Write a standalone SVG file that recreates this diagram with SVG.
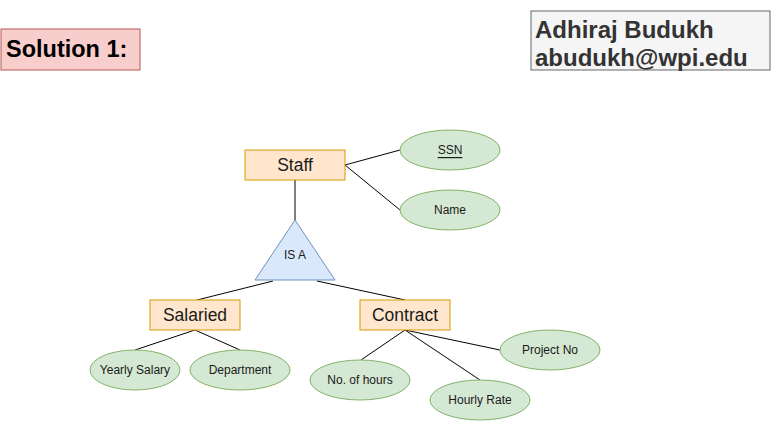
<svg xmlns="http://www.w3.org/2000/svg" width="771" height="421" viewBox="0 0 771 421">
<style>
text{font-family:"Liberation Sans",Arial,Helvetica,sans-serif;fill:#1a1a1a}
.ent{fill:#ffe6cc;stroke:#d79b00;stroke-width:1}
.att{fill:#d5e8d4;stroke:#82b366;stroke-width:1}
.isa{fill:#dae8fc;stroke:#6c8ebf;stroke-width:1}
.lbl16{font-size:17.5px;text-anchor:middle;dominant-baseline:central}
.lbl12{font-size:12px;text-anchor:middle;dominant-baseline:central}
.conn line{stroke:#000;stroke-width:1}
</style>
<rect width="771" height="421" fill="#fff"/>
<g id="title">
<rect x="1" y="29" width="139" height="41" fill="#f8cecc" stroke="#b85450"/>
<text x="6" y="57" font-size="23.5" font-weight="bold" style="fill:#000">Solution 1:</text>
</g>
<g id="author">
<rect x="531" y="11" width="239" height="59" fill="#f5f5f5" stroke="#666"/>
<text x="535" y="38" font-size="24" font-weight="bold" style="fill:#333">Adhiraj Budukh</text>
<text x="535" y="66" font-size="24" font-weight="bold" style="fill:#333">abudukh@wpi.edu</text>
</g>
<g class="conn" id="connectors">
<line x1="345" y1="165" x2="400" y2="150"/>
<line x1="345" y1="165" x2="400" y2="210"/>
<line x1="295" y1="180" x2="295" y2="220"/>
<line x1="273" y1="281" x2="197" y2="300"/>
<line x1="317" y1="281" x2="405" y2="300"/>
<line x1="195" y1="330" x2="135" y2="350"/>
<line x1="195" y1="330" x2="240" y2="350"/>
<line x1="405" y1="330" x2="361" y2="360"/>
<line x1="405" y1="330" x2="480" y2="380"/>
<line x1="405" y1="330" x2="500" y2="350"/>
</g>
<g id="staff">
<rect class="ent" x="245" y="150" width="100" height="30"/>
<text class="lbl16" x="295" y="165">Staff</text>
</g>
<g id="ssn">
<ellipse class="att" cx="450" cy="150" rx="50" ry="20"/>
<text class="lbl12" x="450" y="150" text-decoration="underline">SSN</text>
</g>
<g id="name">
<ellipse class="att" cx="450" cy="210" rx="50" ry="20"/>
<text class="lbl12" x="450" y="210">Name</text>
</g>
<g id="isa">
<polygon class="isa" points="295,220 255,280 335,280"/>
<text class="lbl12" x="295" y="255">IS A</text>
</g>
<g id="salaried">
<rect class="ent" x="150" y="300" width="90" height="30"/>
<text class="lbl16" x="195" y="315">Salaried</text>
</g>
<g id="contract">
<rect class="ent" x="360" y="300" width="90" height="30"/>
<text class="lbl16" x="405" y="315">Contract</text>
</g>
<g id="yearly">
<ellipse class="att" cx="135" cy="370" rx="45" ry="20"/>
<text class="lbl12" x="135" y="370">Yearly Salary</text>
</g>
<g id="department">
<ellipse class="att" cx="240" cy="370" rx="50" ry="20"/>
<text class="lbl12" x="240" y="370">Department</text>
</g>
<g id="hours">
<ellipse class="att" cx="360" cy="380" rx="50" ry="20"/>
<text class="lbl12" x="360" y="380">No. of hours</text>
</g>
<g id="rate">
<ellipse class="att" cx="480" cy="400" rx="50" ry="20"/>
<text class="lbl12" x="480" y="400">Hourly Rate</text>
</g>
<g id="project">
<ellipse class="att" cx="550" cy="350" rx="50" ry="20"/>
<text class="lbl12" x="550" y="350">Project No</text>
</g>
</svg>
